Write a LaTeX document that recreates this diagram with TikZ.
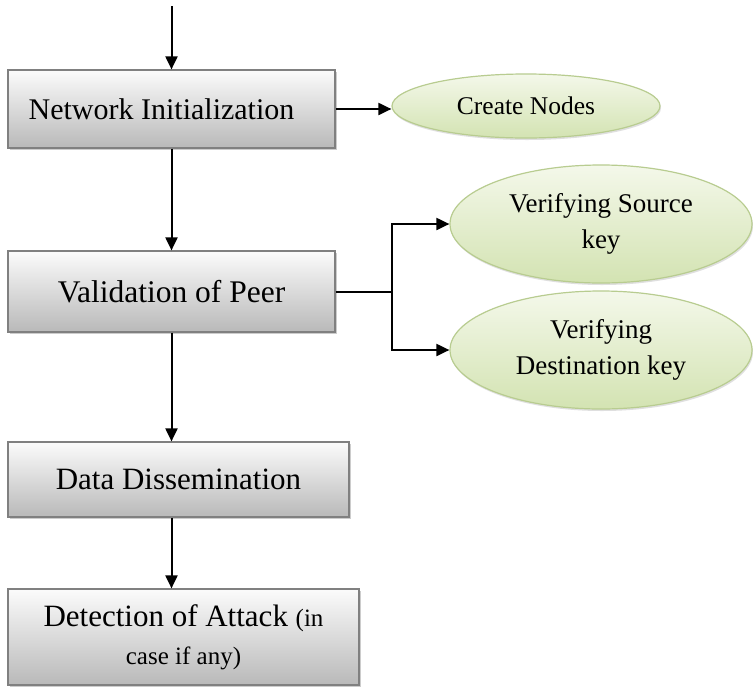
\documentclass[tikz,border=0pt]{standalone}
\usepackage{fontspec}
\setmainfont{Liberation Serif}
\usetikzlibrary{arrows.meta,shadows,shapes.geometric}
\definecolor{boxedge}{HTML}{808080}
\definecolor{elledge}{HTML}{B8CC90}
\definecolor{elltop}{HTML}{F4F8EA}
\definecolor{ellbot}{HTML}{D3E3B2}
\tikzset{
  procbox/.style={rectangle, draw=boxedge, line width=1.2pt, top color=gray!3, bottom color=gray!55,
    drop shadow={shadow xshift=2pt, shadow yshift=-2pt, opacity=0.4}, align=center, inner sep=2pt},
  oval/.style={ellipse, draw=elledge, line width=1.2pt, top color=elltop, bottom color=ellbot,
    drop shadow={shadow xshift=1pt, shadow yshift=-2pt, opacity=0.25}, align=center, inner sep=0pt},
  flow/.style={line width=2pt, -{Triangle[length=13pt,width=12pt]}},
  plain/.style={line width=2pt}
}
\begin{document}
\begin{tikzpicture}[x=1pt,y=1pt]
\useasboundingbox (0,0) rectangle (753,-689);
\fill[white] (0,0) rectangle (753,-689);

\node[procbox, minimum width=327pt, minimum height=78pt] (ni) at (171.5,-109) {};
\node[font={\fontsize{30}{34}\selectfont}] (nit) at (161.5,-109) {Network Initialization};
\node[procbox, minimum width=327pt, minimum height=81pt,
  font={\fontsize{31.5}{36}\selectfont}] (vp) at (171.5,-291.5) {Validation of Peer};
\node[procbox, minimum width=341pt, minimum height=75pt,
  font={\fontsize{31}{36}\selectfont}] (dd) at (178.5,-479.5) {Data Dissemination};
\node[procbox, minimum width=351pt, minimum height=96pt,
  font={\fontsize{31}{38}\selectfont}] (da) at (183.5,-637)
  {Detection of Attack {\fontsize{25}{28}\selectfont(in}\\
   {\fontsize{25}{28}\selectfont case if any)}};

\node[oval, minimum width=268pt, minimum height=64pt,
  font={\fontsize{25.5}{30}\selectfont}] (cn) at (526,-106) {Create Nodes};
\node[oval, minimum width=302pt, minimum height=118pt,
  font={\fontsize{27}{36}\selectfont}] (vs) at (601,-224) {Verifying Source\\ key};
\node[oval, minimum width=302pt, minimum height=118pt,
  font={\fontsize{27}{36}\selectfont}] (vd) at (601,-350) {Verifying\\ Destination key};

\coordinate (top) at (171.5,-6);
\coordinate (br) at (392,-292);

\draw[flow] (top) -- (ni.north);
\draw[flow] (ni.south) -- (vp.north);
\draw[flow] (vp.south) -- (vp.south |- dd.north);
\draw[flow] (vp.south |- dd.south) -- (vp.south |- da.north);
\draw[flow] (ni.east) -- (ni.east -| cn.west);
\draw[plain] (vp.east |- br) -- (br);
\draw[flow] (br) |- (vs.west);
\draw[flow] (br) |- (vd.west);
\end{tikzpicture}
\end{document}
